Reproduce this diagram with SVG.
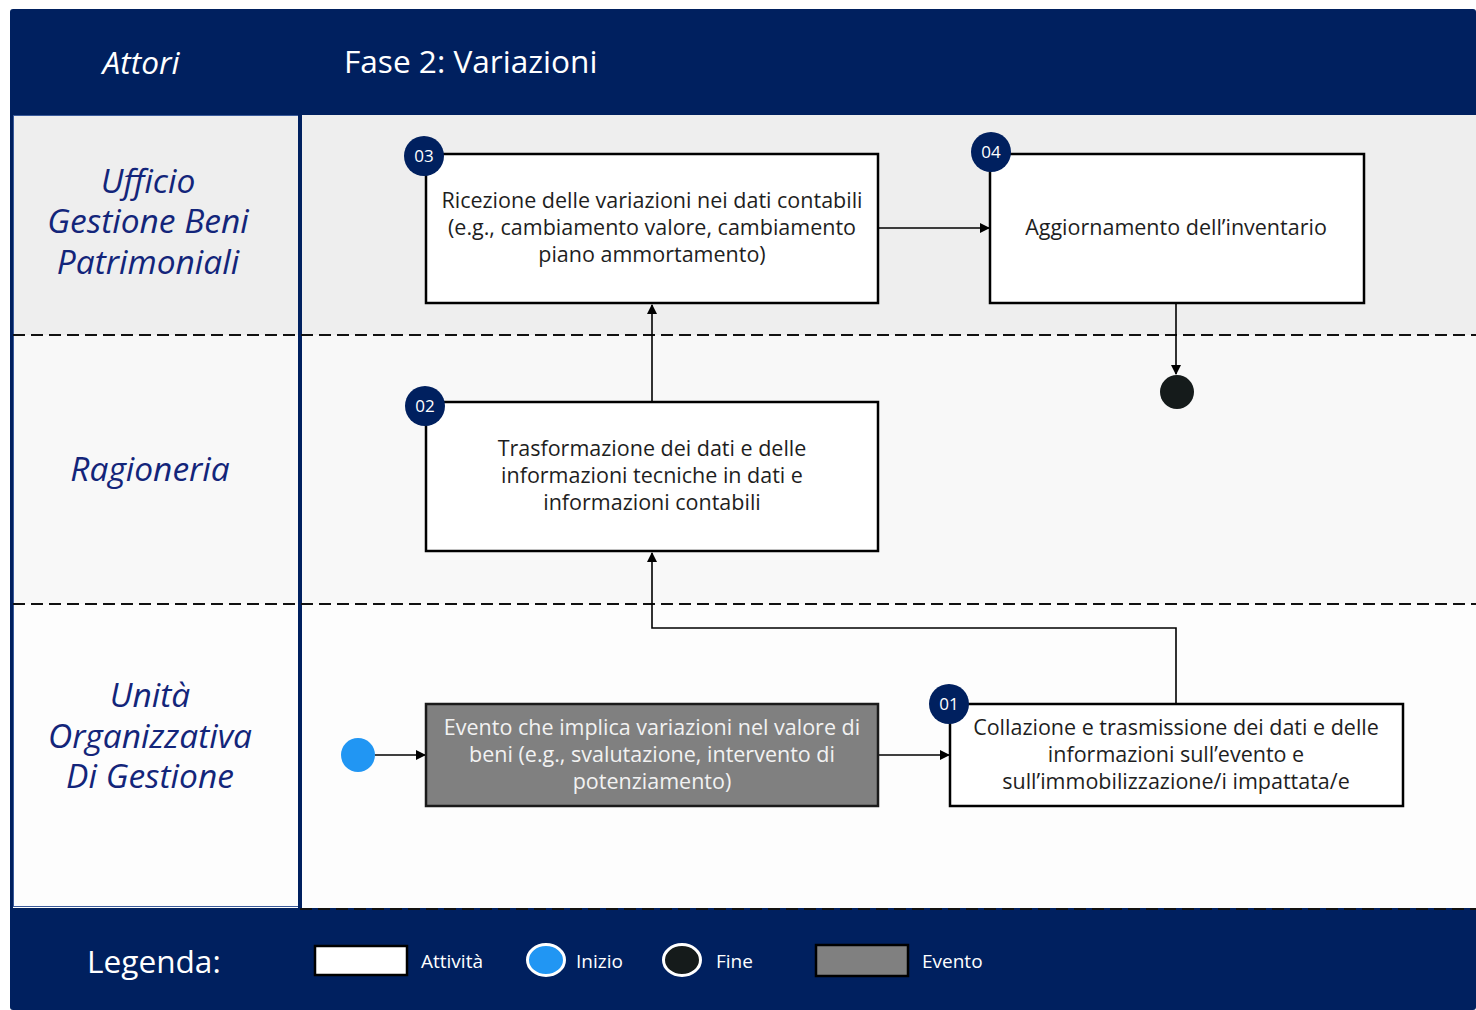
<svg xmlns="http://www.w3.org/2000/svg" width="1476" height="1010" viewBox="0 0 1476 1010">
<style>
.navy{fill:#00205F}
.lane-title{font-family:"Open Sans","Noto Sans",sans-serif;font-style:italic;font-size:33.5px;fill:#13257A;text-anchor:middle}
.hdr{font-family:"Open Sans","Noto Sans",sans-serif;font-size:31.6px;fill:#FFFFFF}
.box{fill:#FFFFFF;stroke:#000000;stroke-width:2.5}
.evt{fill:#808080;stroke:#1a1a1a;stroke-width:2.5}
.txt{font-family:"Open Sans","Noto Sans",sans-serif;font-size:21.5px;fill:#1E1E1E;text-anchor:middle}
.txtw{font-family:"Open Sans","Noto Sans",sans-serif;font-size:21.5px;fill:#F2F2F2;text-anchor:middle}
.badge{fill:#00205F}
.badget{font-family:"Open Sans","Noto Sans",sans-serif;font-size:17px;fill:#FFFFFF;text-anchor:middle}
.dash{stroke:#111111;stroke-width:2;stroke-dasharray:12 6;fill:none}
.conn{stroke:#000000;stroke-width:1.6;fill:none}
.leg{font-family:"Open Sans","Noto Sans",sans-serif;font-size:19px;fill:#FFFFFF}
</style>
<defs>
<marker id="arr" markerWidth="10" markerHeight="10" refX="9" refY="5" orient="auto" markerUnits="userSpaceOnUse">
<path d="M0,0 L10,5 L0,10 Z" fill="#000000"/>
</marker>
</defs>
<rect x="0" y="0" width="1476" height="1010" fill="#FFFFFF"/>
<g id="background">
<rect x="10" y="9" width="1466" height="1001" rx="3" class="navy"/>
<rect x="13" y="115" width="1463" height="220" fill="#EEEEEE"/>
<rect x="13" y="335" width="1463" height="269" fill="#F8F8F8"/>
<rect x="13" y="604" width="1463" height="304" fill="#FDFDFD"/>
<rect x="13.5" y="115.5" width="285" height="791" fill="none" stroke="#3A5A9A" stroke-width="1"/>
<rect x="298" y="115" width="4" height="793" class="navy"/>
<line x1="13" y1="335" x2="1476" y2="335" class="dash"/>
<line x1="13" y1="604" x2="1476" y2="604" class="dash"/>
<line x1="300" y1="909" x2="1476" y2="909" class="dash"/>
</g>
<g id="header">
<text x="141" y="74" class="hdr" font-style="italic" font-size="33.5" text-anchor="middle">Attori</text>
<text x="344" y="73" class="hdr">Fase 2: Variazioni</text>
</g>
<g id="lane-ufficio">
<text class="lane-title"><tspan x="148" y="193">Ufficio</tspan><tspan x="148" y="233">Gestione Beni</tspan><tspan x="148" y="274">Patrimoniali</tspan></text>
</g>
<g id="lane-ragioneria">
<text x="150" y="481" class="lane-title">Ragioneria</text>
</g>
<g id="lane-unita">
<text class="lane-title"><tspan x="150" y="707">Unità</tspan><tspan x="150" y="748">Organizzativa</tspan><tspan x="150" y="788">Di Gestione</tspan></text>
</g>
<g id="connectors">
<line x1="375" y1="755" x2="425" y2="755" class="conn" marker-end="url(#arr)"/>
<line x1="879" y1="755" x2="949" y2="755" class="conn" marker-end="url(#arr)"/>
<polyline points="1176,703 1176,628 652,628 652,553" class="conn" stroke-width="1.3" marker-end="url(#arr)"/>
<line x1="652" y1="401" x2="652" y2="305" class="conn" marker-end="url(#arr)"/>
<line x1="879" y1="228" x2="989" y2="228" class="conn" marker-end="url(#arr)"/>
<line x1="1176" y1="304" x2="1176" y2="374" class="conn" marker-end="url(#arr)"/>
</g>
<g id="start">
<circle cx="358" cy="755" r="17" fill="#2196F3"/>
</g>
<g id="end">
<circle cx="1177" cy="392" r="17" fill="#151B1B"/>
</g>
<g id="node-03">
<rect x="426" y="154" width="452" height="149" class="box"/>
<text class="txt"><tspan x="652" y="208">Ricezione delle variazioni nei dati contabili</tspan><tspan x="652" y="235">(e.g., cambiamento valore, cambiamento</tspan><tspan x="652" y="262">piano ammortamento)</tspan></text>
<circle cx="424" cy="156" r="20" class="badge"/>
<text x="424" y="162" class="badget">03</text>
</g>
<g id="node-04">
<rect x="990" y="154" width="374" height="149" class="box"/>
<text x="1176" y="235" class="txt">Aggiornamento dell’inventario</text>
<circle cx="991" cy="152" r="20" class="badge"/>
<text x="991" y="158" class="badget">04</text>
</g>
<g id="node-02">
<rect x="426" y="402" width="452" height="149" class="box"/>
<text class="txt"><tspan x="652" y="456">Trasformazione dei dati e delle</tspan><tspan x="652" y="483">informazioni tecniche in dati e</tspan><tspan x="652" y="510">informazioni contabili</tspan></text>
<circle cx="425" cy="406" r="20" class="badge"/>
<text x="425" y="412" class="badget">02</text>
</g>
<g id="event">
<rect x="426" y="704" width="452" height="102" class="evt"/>
<text class="txtw"><tspan x="652" y="735">Evento che implica variazioni nel valore di</tspan><tspan x="652" y="762">beni (e.g., svalutazione, intervento di</tspan><tspan x="652" y="789">potenziamento)</tspan></text>
</g>
<g id="node-01">
<rect x="950" y="704" width="453" height="102" class="box"/>
<text class="txt"><tspan x="1176" y="735">Collazione e trasmissione dei dati e delle</tspan><tspan x="1176" y="762">informazioni sull’evento e</tspan><tspan x="1176" y="789">sull’immobilizzazione/i impattata/e</tspan></text>
<circle cx="949" cy="704" r="20" class="badge"/>
<text x="949" y="710" class="badget">01</text>
</g>
<g id="legend">
<text x="87" y="973" class="hdr" font-size="32.5">Legenda:</text>
<rect x="315" y="946" width="92" height="29" fill="#FFFFFF" stroke="#000000" stroke-width="2.5"/>
<text x="421" y="968" class="leg">Attività</text>
<ellipse cx="546" cy="960" rx="18.5" ry="15.5" fill="#2196F3" stroke="#FFFFFF" stroke-width="3"/>
<text x="576" y="968" class="leg">Inizio</text>
<ellipse cx="682" cy="960" rx="18.5" ry="15.5" fill="#151B1B" stroke="#FFFFFF" stroke-width="3"/>
<text x="716" y="968" class="leg">Fine</text>
<rect x="816" y="945" width="92" height="31" fill="#808080" stroke="#000000" stroke-width="2.5"/>
<text x="922" y="968" class="leg">Evento</text>
</g>
</svg>
